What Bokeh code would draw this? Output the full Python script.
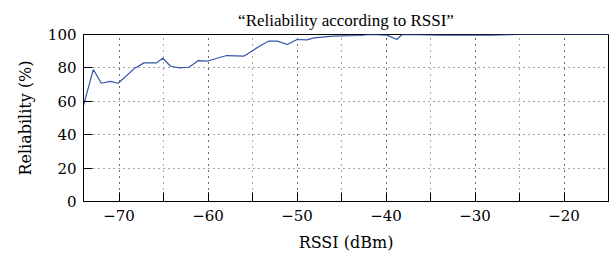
from bokeh.plotting import figure
from bokeh.models import SingleIntervalTicker, Range1d
from bokeh.embed import file_html
from bokeh.resources import INLINE

rssi = [-74.0, -72.9, -72.0, -71.0, -70.1, -68.2, -67.2, -65.8, -65.1, -64.2, -63.2,
        -62.2, -61.7, -61.1, -60.1, -59.0, -57.9, -56.0, -55.1, -54.1, -53.2, -52.2,
        -51.1, -50.0, -48.9, -48.1, -46.0, -43.0, -41.8, -39.9, -38.8, -38.2,
        -33.6, -28.3, -25.0, -15.0]
reliability = [57.5, 79.0, 70.8, 71.9, 70.8, 80.0, 83.0, 83.0, 85.8, 81.0, 80.0,
               80.4, 82.0, 84.4, 84.0, 85.8, 87.4, 87.0, 90.0, 93.4, 96.0, 96.0,
               94.0, 97.0, 96.8, 98.0, 99.0, 99.4, 100.0, 99.6, 97.0, 100.0,
               99.6, 99.6, 100.0, 100.0]
x_ticks = [-70, -60, -50, -40, -30, -20]

TITLE_FONT = "Liberation Serif"
AXIS_FONT = "DejaVu Serif"

p = figure(width=613, height=259, output_backend="svg", toolbar_location=None,
           x_range=Range1d(-74, -15), y_range=Range1d(0, 100),
           min_border_left=83, min_border_right=5, min_border_top=34, min_border_bottom=58)

p.title.text = "\u201cReliability according to RSSI\u201d"
p.title.align = "center"
p.title.text_font = TITLE_FONT
p.title.text_font_size = "17px"
p.title.text_font_style = "normal"
p.title.text_color = "black"
p.title.offset = 0

p.line(rssi, reliability, line_color="#3355aa", line_width=1.2)

p.xaxis.ticker = SingleIntervalTicker(interval=10, num_minor_ticks=2)
p.yaxis.ticker = SingleIntervalTicker(interval=20, num_minor_ticks=0)
p.xaxis.axis_label = "RSSI (dBm)"
p.yaxis.axis_label = "Reliability (%)"
p.xaxis.major_label_overrides = {v: "\u2212" + str(-v) for v in x_ticks}

for ax in p.xaxis + p.yaxis:
    ax.axis_label_text_font = AXIS_FONT
    ax.axis_label_text_font_size = "16px"
    ax.axis_label_text_font_style = "normal"
    ax.axis_label_text_color = "black"
    ax.major_label_text_font = AXIS_FONT
    ax.major_label_text_font_size = "15px"
    ax.major_label_text_font_style = "normal"
    ax.major_label_text_color = "black"
    ax.axis_line_color = "black"
    ax.major_tick_line_color = "black"
    ax.minor_tick_line_color = "black"
    ax.major_tick_in = 9
    ax.major_tick_out = 0
    ax.minor_tick_in = 9
    ax.minor_tick_out = 0

p.xaxis.major_label_standoff = 8
p.yaxis.major_label_standoff = 7
p.xaxis.axis_label_standoff = 9
p.yaxis.axis_label_standoff = 10

p.xgrid.grid_line_color = "black"
p.xgrid.grid_line_dash = "1 5"
p.xgrid.grid_line_alpha = 0.7
p.xgrid.minor_grid_line_color = "black"
p.xgrid.minor_grid_line_dash = "1 5"
p.xgrid.minor_grid_line_alpha = 0.7
p.ygrid.grid_line_color = "black"
p.ygrid.grid_line_dash = "1 4"
p.ygrid.grid_line_alpha = 0.7

p.outline_line_color = "black"
p.outline_line_width = 1
p.outline_line_alpha = 1

open("out.html", "w").write(file_html(p, INLINE))
